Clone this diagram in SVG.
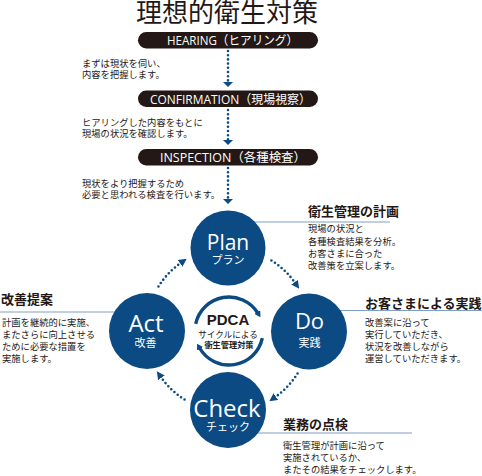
<svg xmlns="http://www.w3.org/2000/svg" width="482" height="476" viewBox="0 0 482 476">
<style>
.pill{fill:#231815}
.pt{fill:#fff;font-family:"Open Sans","Noto Sans CJK JP",sans-serif;font-size:12.5px}
.c{fill:#0b4a82}
.big{fill:#fff;font-family:"Open Sans","Liberation Sans",sans-serif;text-anchor:middle}
.sub{fill:#fff;font-family:"Noto Sans CJK JP",sans-serif;font-size:11px;text-anchor:middle}
.hd{fill:#231815;font-family:"Noto Sans CJK JP",sans-serif;font-size:13px;font-weight:700}
.bd{fill:#231815;font-family:"Noto Sans CJK JP",sans-serif;font-size:9.3px}
.rule{stroke:#7f9fc3;stroke-width:1;fill:none}
.dot{fill:none;stroke:#0b4a82;stroke-width:2.6;stroke-linecap:round;stroke-dasharray:0 4.2}
.ring{fill:none;stroke:#0b4a82;stroke-width:3.4}
</style>
<defs>
<marker id="ah" viewBox="0 0 8 8" refX="1" refY="4" markerWidth="8" markerHeight="8" markerUnits="userSpaceOnUse" orient="auto"><path d="M0,0 L8,4 L0,8 z" fill="#0b4a82"/></marker>
<marker id="dh" viewBox="0 0 5 10" refX="0" refY="5" markerWidth="5" markerHeight="10" markerUnits="userSpaceOnUse" orient="auto"><path d="M0,0 L5,5 L0,10 z" fill="#0b4a82"/></marker>
<marker id="sh" viewBox="0 0 6 7" refX="1" refY="3.5" markerWidth="6" markerHeight="7" markerUnits="userSpaceOnUse" orient="auto"><path d="M0,0 L6,3.5 L0,7 z" fill="#0b4a82"/></marker>
</defs>

<text id="title" x="227" y="22" text-anchor="middle" font-family="'Noto Sans CJK JP',sans-serif" font-size="26" fill="#231815">理想的衛生対策</text>

<g id="connectors">
<path class="dot" d="M228 51 V82" marker-end="url(#dh)"/>
<path class="dot" d="M228 110 V140" marker-end="url(#dh)"/>
<path class="dot" d="M228 168 V199" marker-end="url(#dh)"/>
<path class="dot" d="M271.45 260.46 A82 82 0 0 1 295.17 282.97" marker-end="url(#ah)"/>
<path class="dot" d="M297.54 373.45 A82 82 0 0 1 275.03 397.17" marker-end="url(#ah)"/>
<path class="dot" d="M184.55 399.54 A82 82 0 0 1 160.83 377.03" marker-end="url(#ah)"/>
<path class="dot" d="M158.46 286.55 A82 82 0 0 1 180.97 262.83" marker-end="url(#ah)"/>
</g>

<g id="rules">
<line class="rule" x1="228" y1="222" x2="390" y2="222"/>
<line class="rule" x1="309" y1="310.5" x2="482" y2="310.5"/>
<line class="rule" x1="0" y1="312" x2="147" y2="312"/>
<line class="rule" x1="228" y1="433" x2="412" y2="433"/>
</g>

<g id="hearing">
<rect class="pill" x="138" y="32" width="180" height="16.5" rx="8.25"/>
<text class="pt" x="167" y="45" textLength="131" lengthAdjust="spacingAndGlyphs">HEARING（ヒアリング）</text>
</g>
<g id="confirmation">
<rect class="pill" x="138" y="90.5" width="180" height="16.5" rx="8.25"/>
<text class="pt" x="150" y="103.5" textLength="161" lengthAdjust="spacingAndGlyphs">CONFIRMATION（現場視察）</text>
</g>
<g id="inspection">
<rect class="pill" x="138" y="149" width="180" height="16.5" rx="8.25"/>
<text class="pt" x="160" y="162" textLength="146" lengthAdjust="spacingAndGlyphs">INSPECTION（各種検査）</text>
</g>

<g id="note-hearing">
<text class="bd" x="82" y="66.5">まずは現状を伺い、</text>
<text class="bd" x="82" y="78">内容を把握します。</text>
</g>
<g id="note-confirmation">
<text class="bd" x="82" y="125.5">ヒアリングした内容をもとに</text>
<text class="bd" x="82" y="137">現場の状況を確認します。</text>
</g>
<g id="note-inspection">
<text class="bd" x="82" y="186.5">現状をより把握するため</text>
<text class="bd" x="82" y="198">必要と思われる検査を行います。</text>
</g>

<g id="plan">
<circle class="c" cx="228" cy="248" r="37.5"/>
<text class="big" x="228" y="250" font-size="21">Plan</text>
<text class="sub" x="228" y="264">プラン</text>
</g>
<g id="do">
<circle class="c" cx="309" cy="331.5" r="38"/>
<text class="big" x="309.5" y="328.5" font-size="22">Do</text>
<text class="sub" x="309.5" y="346.5" font-size="11.5">実践</text>
</g>
<g id="act">
<circle class="c" cx="147" cy="331" r="38"/>
<text class="big" x="146" y="332" font-size="24">Act</text>
<text class="sub" x="145.5" y="346.5" font-size="11.5">改善</text>
</g>
<g id="check">
<circle class="c" cx="228" cy="410" r="38"/>
<text class="big" x="227" y="417" font-size="24">Check</text>
<text class="sub" x="228" y="430.5">チェック</text>
</g>

<g id="pdca">
<path class="ring" d="M195.7 323.9 A34 34 0 0 1 257.8 313" marker-end="url(#sh)"/>
<path class="ring" d="M262.3 338.1 A34 34 0 0 1 199.6 348" marker-end="url(#sh)"/>
<text x="228" y="325" text-anchor="middle" font-family="'Liberation Sans',sans-serif" font-size="15" font-weight="700" fill="#231815">PDCA</text>
<text x="228" y="338" text-anchor="middle" font-family="'Noto Sans CJK JP',sans-serif" font-size="8.6" fill="#231815">サイクルによる</text>
<text x="229" y="348" text-anchor="middle" font-family="'Noto Sans CJK JP',sans-serif" font-size="8.2" font-weight="700" fill="#231815">衛生管理対策</text>
</g>

<g id="text-plan">
<text class="hd" x="308" y="216">衛生管理の計画</text>
<text class="bd" x="308" y="232">現場の状況と</text>
<text class="bd" x="308" y="244.5">各種検査結果を分析。</text>
<text class="bd" x="308" y="257">お客さまに合った</text>
<text class="bd" x="308" y="269">改善策を立案します。</text>
</g>
<g id="text-do">
<text class="hd" x="365" y="307.5">お客さまによる実践</text>
<text class="bd" x="365" y="326">改善案に沿って</text>
<text class="bd" x="365" y="338">実行していただき、</text>
<text class="bd" x="365" y="350">状況を改善しながら</text>
<text class="bd" x="365" y="362">運営していただきます。</text>
</g>
<g id="text-act">
<text class="hd" x="1" y="304">改善提案</text>
<text class="bd" x="2" y="326">計画を継続的に実施、</text>
<text class="bd" x="2" y="338">またさらに向上させる</text>
<text class="bd" x="2" y="350">ために必要な措置を</text>
<text class="bd" x="2" y="362">実施します。</text>
</g>
<g id="text-check">
<text class="hd" x="283" y="429">業務の点検</text>
<text class="bd" x="283" y="448.5">衛生管理が計画に沿って</text>
<text class="bd" x="283" y="461">実施されているか、</text>
<text class="bd" x="283" y="473">またその結果をチェックします。</text>
</g>
</svg>
